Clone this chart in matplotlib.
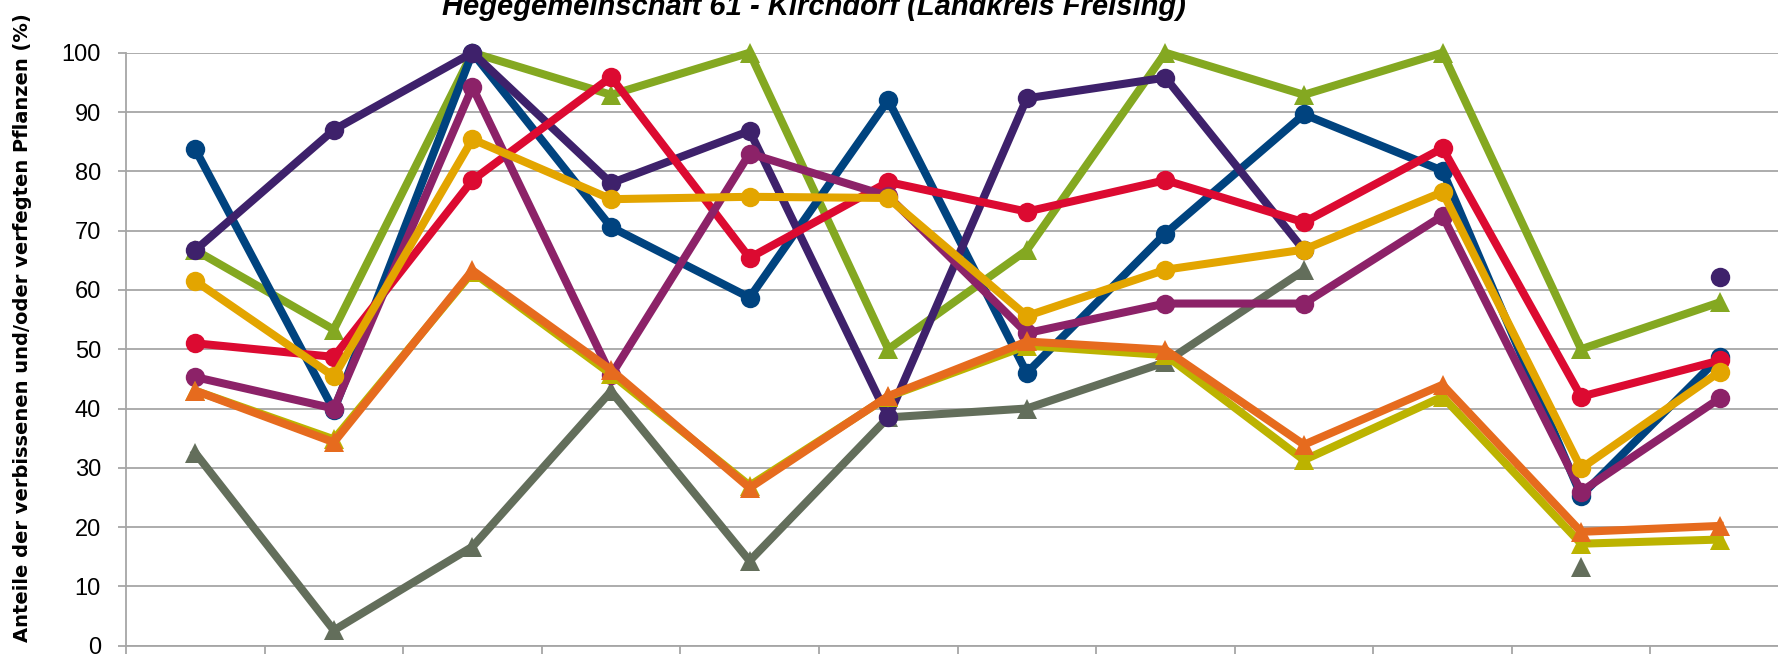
import matplotlib
matplotlib.use("Agg")
import matplotlib.pyplot as plt
import numpy as np

# categories 1..12 (x labels are cut off in the reference)
cats = np.arange(1, 13)
nan = np.nan

# circle series
blue = [83.7, 39.7, 100, 70.6, 58.7, 92.0, 46.0, 69.5, 89.6, 80.1, 25.3, 48.7]
purple = [66.7, 87.0, 100, 78.0, 86.8, 38.5, 92.3, 95.8, 66.7, nan, nan, 62.2]
red = [51.0, 48.7, 78.5, 95.9, 65.4, 78.2, 73.2, 78.5, 71.4, 83.9, 42.0, 48.1]
gold = [61.5, 45.4, 85.4, 75.3, 75.7, 75.5, 55.6, 63.4, 66.8, 76.5, 29.9, 46.2]
magenta = [45.3, 40.0, 94.2, 45.6, 83.0, 75.8, 52.7, 57.7, 57.7, 72.5, 26.0, 41.7]

# triangle series
green = [66.7, 53.3, 100, 92.9, 100, 50.0, 66.7, 100, 92.9, 100, 50.0, 57.9]
gray = [32.5, 2.6, 16.7, 42.9, 14.3, 38.5, 40.0, 47.8, 63.3, nan, 13.3, nan]
olive = [43.0, 34.8, 63.0, 45.8, 27.0, 42.0, 50.6, 49.0, 31.3, 42.0, 17.2, 17.9]
orange = [43.0, 34.3, 63.3, 46.5, 26.6, 42.1, 51.3, 49.9, 33.9, 44.0, 19.2, 20.2]

yticks = [0, 10, 20, 30, 40, 50, 60, 70, 80, 90, 100]
title = "Hegegemeinschaft 61 - Kirchdorf (Landkreis Freising)"
ylabel = "Anteile der verbissenen und/oder verfegten Pflanzen (%)"

fig = plt.figure(figsize=(17.78, 6.54), dpi=100)
ax = fig.add_axes([126 / 1778, 8.3 / 654, 1663 / 1778, 593 / 654])

series = [
    (green, "#84a821", "^"),
    (gray, "#636e5b", "^"),
    (blue, "#00437f", "o"),
    (purple, "#3e216b", "o"),
    (red, "#dc0a31", "o"),
    (magenta, "#8c2268", "o"),
    (olive, "#bcb300", "^"),
    (orange, "#e66b1e", "^"),
    (gold, "#e3a500", "o"),
]
for vals, col, mk in series:
    ax.plot(cats, vals, color=col, marker=mk, lw=5.8, ms=14 if mk == "o" else 15,
            markeredgewidth=0, solid_joinstyle="round", clip_on=False)

ax.set_xlim(0.5, 12.5)
ax.set_ylim(0, 100)
ax.set_yticks(yticks)
ax.set_xticks(np.arange(0.5, 13, 1))
ax.set_xticklabels([])
ax.yaxis.grid(True, color="#a6a6a6", lw=1.3)
ax.set_axisbelow(True)
for s in ["top", "right"]:
    ax.spines[s].set_visible(False)
for s in ["left", "bottom"]:
    ax.spines[s].set_color("#a6a6a6")
    ax.spines[s].set_linewidth(1.3)
ax.tick_params(axis="both", direction="out", length=6, width=1.3, color="#a6a6a6")
ax.tick_params(axis="y", labelsize=17, pad=12)
for lab in ax.get_yticklabels():
    lab.set_fontfamily("Liberation Sans")

fig.text(814 / 1778, 1 - 15 / 654, title, ha="center", va="baseline",
         fontsize=21, fontweight="bold", fontstyle="italic", family="Liberation Sans")
fig.text(23 / 1778, 326 / 654, ylabel, rotation=90, ha="center", va="center",
         fontsize=14, fontweight="bold", family="DejaVu Sans")

fig.savefig("out.png", dpi=100)
